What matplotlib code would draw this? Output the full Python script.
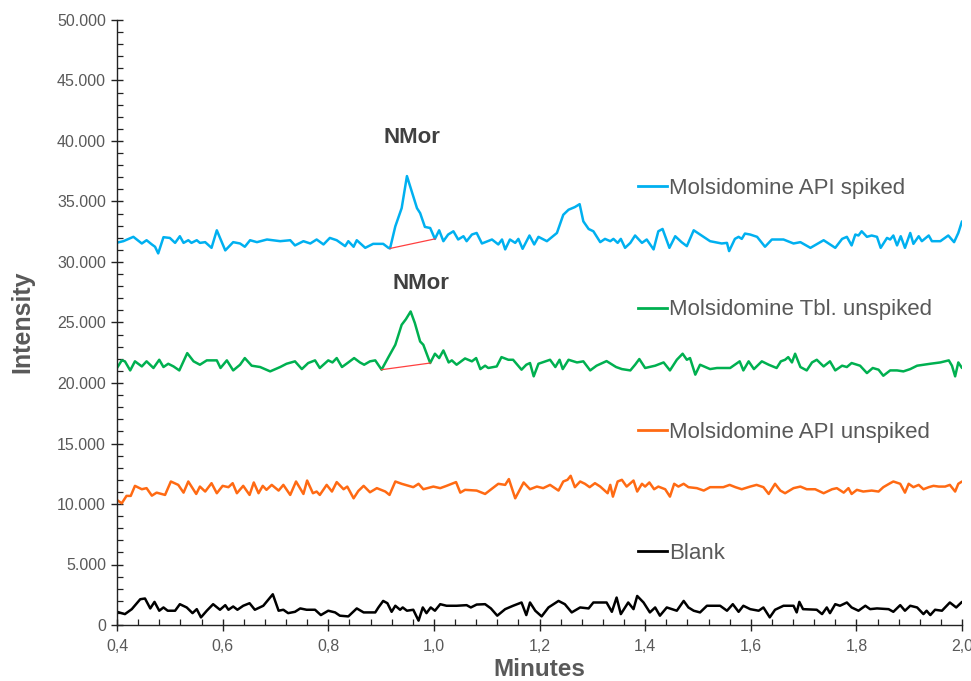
import matplotlib
matplotlib.use("Agg")
import matplotlib.pyplot as plt
from matplotlib.ticker import MultipleLocator, FuncFormatter
from matplotlib.lines import Line2D

# ---------------- data ----------------
spiked_x = [0.400, 0.412, 0.431, 0.447, 0.456, 0.466, 0.472, 0.478, 0.488, 0.500, 0.510, 0.519, 0.526, 0.535,
            0.541, 0.551, 0.557, 0.567, 0.579, 0.589, 0.605, 0.620, 0.633, 0.642, 0.652, 0.665, 0.684, 0.709,
            0.728, 0.737, 0.753, 0.766, 0.778, 0.791, 0.803, 0.816, 0.832, 0.838, 0.848, 0.854, 0.870, 0.885,
            0.904, 0.914, 0.917, 0.927, 0.939, 0.949, 0.961, 0.968, 0.974, 0.983, 0.993, 1.002, 1.010, 1.018,
            1.027, 1.037, 1.046, 1.056, 1.062, 1.072, 1.081, 1.091, 1.110, 1.122, 1.129, 1.135, 1.144, 1.154,
            1.160, 1.168, 1.181, 1.190, 1.198, 1.214, 1.233, 1.245, 1.255, 1.267, 1.276, 1.283, 1.293, 1.302,
            1.315, 1.324, 1.334, 1.340, 1.348, 1.354, 1.362, 1.372, 1.381, 1.394, 1.403, 1.416, 1.425, 1.433,
            1.446, 1.457, 1.469, 1.479, 1.492, 1.504, 1.523, 1.545, 1.555, 1.559, 1.570, 1.577, 1.583, 1.589,
            1.599, 1.612, 1.627, 1.640, 1.662, 1.681, 1.694, 1.713, 1.738, 1.760, 1.773, 1.782, 1.791, 1.798,
            1.804, 1.810, 1.820, 1.829, 1.839, 1.846, 1.858, 1.864, 1.870, 1.877, 1.884, 1.892, 1.902, 1.908,
            1.918, 1.924, 1.937, 1.943, 1.959, 1.974, 1.985, 1.993, 2.000]
spiked_y = [31600, 31720, 32080, 31530, 31800, 31450, 31260, 30710, 32050, 31990, 31580, 32130, 31580, 31800,
            31580, 31800, 31580, 31640, 31170, 32620, 30960, 31640, 31530, 31260, 31800, 31640, 31860, 31720,
            31800, 31370, 31720, 31530, 31860, 31450, 31990, 31800, 31310, 31720, 31260, 31800, 31170, 31500,
            31500, 31170, 31120, 32950, 34450, 37100, 35410, 34450, 34040, 32900, 32810, 31910, 32620, 31720,
            32270, 32540, 31860, 32130, 31720, 32270, 32400, 31530, 31860, 31450, 31860, 31040, 31860, 31580,
            31910, 31090, 32190, 31450, 32080, 31720, 32400, 33900, 34320, 34540, 34780, 33360, 32730, 32540,
            31640, 31910, 31720, 31910, 31580, 31910, 31170, 31580, 32190, 31580, 31860, 31040, 32540, 32730,
            31170, 32130, 31640, 31310, 32620, 32270, 31720, 31530, 31580, 30900, 31910, 32080, 31910, 32350,
            32270, 32080, 31260, 31860, 31860, 31530, 31640, 31170, 31800, 31170, 31910, 32080, 31370, 32270,
            32190, 32540, 32080, 32190, 32080, 31170, 31990, 31860, 32190, 31370, 32130, 31170, 32400, 31500,
            32130, 31720, 32190, 31720, 31720, 32190, 31640, 32400, 33360]

tbl_x = [0.400, 0.409, 0.415, 0.425, 0.434, 0.447, 0.456, 0.469, 0.480, 0.488, 0.497, 0.507, 0.518, 0.533,
         0.545, 0.557, 0.570, 0.589, 0.596, 0.608, 0.620, 0.633, 0.642, 0.655, 0.671, 0.690, 0.709, 0.721,
         0.737, 0.750, 0.762, 0.775, 0.784, 0.800, 0.808, 0.816, 0.826, 0.838, 0.849, 0.860, 0.868, 0.879,
         0.889, 0.901, 0.914, 0.927, 0.939, 0.947, 0.956, 0.964, 0.974, 0.980, 0.993, 1.002, 1.010, 1.018,
         1.028, 1.034, 1.043, 1.059, 1.072, 1.080, 1.088, 1.097, 1.103, 1.119, 1.128, 1.141, 1.150, 1.166,
         1.175, 1.182, 1.189, 1.198, 1.211, 1.220, 1.230, 1.238, 1.244, 1.255, 1.271, 1.283, 1.296, 1.308,
         1.327, 1.345, 1.356, 1.372, 1.381, 1.389, 1.400, 1.419, 1.435, 1.447, 1.460, 1.471, 1.479, 1.485,
         1.495, 1.504, 1.523, 1.536, 1.561, 1.579, 1.586, 1.596, 1.606, 1.621, 1.634, 1.649, 1.657, 1.665,
         1.671, 1.678, 1.684, 1.694, 1.706, 1.716, 1.725, 1.738, 1.750, 1.760, 1.773, 1.782, 1.791, 1.807,
         1.820, 1.831, 1.842, 1.851, 1.864, 1.877, 1.889, 1.902, 1.915, 1.927, 1.940, 1.959, 1.975, 1.981,
         1.987, 1.993, 2.000]
tbl_y = [21240, 21870, 21790, 21040, 21790, 21370, 21790, 21240, 21920, 21320, 21590, 21370, 21040, 22470,
         21790, 21510, 21870, 21870, 21240, 21870, 21040, 21510, 22060, 21430, 21320, 20960, 21320, 21590,
         21790, 21150, 21650, 21870, 21240, 21870, 21700, 22060, 21320, 21700, 22060, 21700, 21510, 21790,
         21870, 21100, 22140, 23160, 24810, 25270, 25910, 24950, 23430, 23160, 21650, 22420, 22060, 22690,
         21700, 21870, 21510, 22030, 21790, 22060, 21150, 21430, 21240, 21370, 22140, 21920, 21920, 21100,
         21510, 21650, 20550, 21590, 21790, 21920, 21320, 21920, 21150, 21920, 21700, 21790, 21040, 21430,
         21810, 21320, 21150, 21040, 21510, 21980, 21240, 21430, 21700, 21040, 21920, 22420, 21920, 22060,
         20690, 21510, 21150, 21240, 21240, 21790, 21040, 21790, 21150, 21790, 21510, 21240, 21790, 21920,
         22140, 21700, 22420, 21320, 21040, 21700, 21920, 21370, 21790, 21040, 21430, 21320, 21650, 21430,
         20820, 21240, 21100, 20600, 21040, 21040, 20960, 21150, 21430, 21510, 21590, 21700, 21870, 21430,
         20550, 21700, 21240]

api_x = [0.400, 0.409, 0.418, 0.426, 0.434, 0.447, 0.456, 0.466, 0.475, 0.491, 0.502, 0.516, 0.526, 0.535,
         0.550, 0.557, 0.567, 0.579, 0.589, 0.600, 0.611, 0.619, 0.627, 0.639, 0.651, 0.659, 0.668, 0.676,
         0.683, 0.693, 0.706, 0.715, 0.728, 0.739, 0.753, 0.760, 0.771, 0.778, 0.784, 0.797, 0.807, 0.816,
         0.829, 0.836, 0.848, 0.857, 0.867, 0.879, 0.892, 0.908, 0.916, 0.927, 0.939, 0.961, 0.971, 0.980,
         0.999, 1.012, 1.024, 1.042, 1.050, 1.059, 1.081, 1.097, 1.122, 1.135, 1.142, 1.154, 1.170, 1.182,
         1.195, 1.207, 1.220, 1.236, 1.245, 1.253, 1.259, 1.267, 1.277, 1.286, 1.295, 1.305, 1.315, 1.329,
         1.334, 1.339, 1.348, 1.356, 1.365, 1.378, 1.385, 1.394, 1.400, 1.408, 1.417, 1.425, 1.438, 1.447,
         1.455, 1.463, 1.473, 1.482, 1.498, 1.511, 1.523, 1.548, 1.560, 1.571, 1.583, 1.599, 1.611, 1.624,
         1.634, 1.646, 1.656, 1.665, 1.681, 1.694, 1.706, 1.722, 1.738, 1.754, 1.763, 1.776, 1.785, 1.791,
         1.801, 1.813, 1.829, 1.842, 1.851, 1.864, 1.870, 1.883, 1.892, 1.899, 1.908, 1.918, 1.927, 1.937,
         1.946, 1.956, 1.968, 1.977, 1.987, 1.993, 2.000]
api_y = [10330, 10060, 10670, 10670, 11500, 11220, 11310, 10690, 10940, 10750, 11860, 11580, 10940, 11860,
         10830, 11440, 11030, 11720, 10890, 11500, 11390, 11720, 10890, 11500, 10750, 11780, 10890, 11500,
         11170, 11580, 11110, 11580, 10750, 11860, 10830, 11940, 10890, 11030, 10750, 11580, 11030, 11810,
         11220, 11440, 10470, 11080, 11500, 10970, 11310, 11030, 10750, 11860, 11670, 11390, 11670, 11220,
         11440, 11310, 11500, 11810, 10940, 11170, 11110, 10830, 11670, 11580, 12060, 10470, 11780, 11220,
         11440, 11310, 11580, 11110, 11860, 12000, 12330, 11390, 11860, 11670, 11390, 11720, 11440, 10890,
         11580, 10610, 11860, 12000, 11440, 11940, 11030, 11670, 11440, 11780, 11220, 11440, 11220, 10610,
         11670, 11440, 11670, 11390, 11310, 11110, 11390, 11390, 11580, 11390, 11220, 11440, 11580, 11390,
         10830, 11670, 11110, 10890, 11310, 11440, 11220, 11220, 10890, 11220, 11310, 10940, 11310, 10830,
         11170, 11030, 11110, 11030, 11390, 11720, 11860, 11670, 10940, 11670, 11390, 11580, 11220, 11390,
         11500, 11440, 11440, 11580, 11030, 11670, 11860]

blank_x = [0.400, 0.415, 0.428, 0.444, 0.453, 0.463, 0.471, 0.480, 0.488, 0.496, 0.510, 0.519, 0.532, 0.543,
           0.551, 0.559, 0.570, 0.582, 0.595, 0.605, 0.611, 0.620, 0.628, 0.639, 0.651, 0.661, 0.677, 0.695,
           0.706, 0.715, 0.724, 0.737, 0.747, 0.759, 0.775, 0.786, 0.800, 0.813, 0.822, 0.838, 0.854, 0.867,
           0.889, 0.895, 0.904, 0.912, 0.920, 0.927, 0.936, 0.941, 0.949, 0.961, 0.971, 0.979, 0.986, 0.994,
           1.002, 1.012, 1.024, 1.043, 1.062, 1.070, 1.081, 1.097, 1.108, 1.120, 1.135, 1.150, 1.166, 1.175,
           1.182, 1.192, 1.204, 1.217, 1.236, 1.248, 1.261, 1.277, 1.293, 1.302, 1.327, 1.337, 1.346, 1.354,
           1.362, 1.368, 1.378, 1.385, 1.397, 1.409, 1.419, 1.428, 1.441, 1.460, 1.473, 1.482, 1.492, 1.504,
           1.517, 1.542, 1.555, 1.566, 1.577, 1.586, 1.599, 1.615, 1.624, 1.636, 1.646, 1.662, 1.681, 1.687,
           1.692, 1.699, 1.725, 1.735, 1.744, 1.750, 1.760, 1.769, 1.782, 1.791, 1.804, 1.817, 1.826, 1.839,
           1.861, 1.870, 1.883, 1.892, 1.902, 1.915, 1.927, 1.933, 1.940, 1.949, 1.962, 1.977, 1.989, 2.000]
blank_y = [1090, 900, 1310, 2130, 2190, 1370, 1910, 1180, 1450, 1180, 1180, 1720, 1450, 980,
           1310, 630, 1180, 1720, 1260, 1640, 1260, 1530, 1260, 1590, 1800, 1260, 1590, 2540,
           1180, 1260, 980, 1090, 1370, 1260, 1260, 820, 1180, 1040, 770, 710, 1370, 1040,
           1040, 1450, 1990, 1800, 1090, 1590, 1260, 1450, 1180, 1260, 360, 1450, 980, 1450,
           1180, 1720, 1590, 1590, 1640, 1450, 1690, 1720, 1370, 770, 1310, 1590, 1860, 820,
           1860, 1180, 710, 1450, 1990, 1720, 1040, 1450, 1370, 1860, 1860, 1090, 2270, 900,
           1450, 1860, 1310, 2400, 1860, 1040, 1450, 770, 1450, 1180, 1990, 1450, 1180, 1040,
           1590, 1590, 1180, 1720, 1090, 1590, 1310, 1180, 1450, 630, 1260, 1590, 1590, 1040,
           1910, 1310, 1260, 900, 1450, 980, 1720, 1590, 1860, 1450, 1180, 1590, 1310, 1370,
           1310, 1090, 1640, 1180, 1590, 1450, 900, 1180, 820, 1260, 1180, 1860, 1450, 1910]

# integration baselines (red) under the NMor peaks
base_spiked_x = [0.917, 1.002]
base_spiked_y = [31120, 31910]
base_tbl_x = [0.901, 0.993]
base_tbl_y = [21100, 21650]

peak_label = "NMor"
peak_spiked = (0.959, 40250)
peak_tbl = (0.976, 28260)

series_labels = ["Molsidomine API spiked", "Molsidomine Tbl. unspiked",
                 "Molsidomine API unspiked", "Blank"]
colors = ["#00B0F0", "#00B050", "#FF6A13", "#000000"]

# ---------------- figure ----------------
GRAY = "#595959"
REG = ["Liberation Sans", "DejaVu Sans"]

fig = plt.figure(figsize=(9.71, 6.81), dpi=100)
ax = fig.add_axes([117/971, 1-625/681, (962-117)/971, (625-20)/681])

series = [(spiked_x, spiked_y), (tbl_x, tbl_y), (api_x, api_y), (blank_x, blank_y)]
handles = []
for (xs, ys), c, lab in zip(series, colors, series_labels):
    h, = ax.plot(xs, ys, color=c, lw=1.8, solid_joinstyle="round", solid_capstyle="round", label=lab)
    handles.append(h)

ax.plot(base_spiked_x, base_spiked_y, color="#FF4040", lw=0.9)
ax.plot(base_tbl_x, base_tbl_y, color="#FF4040", lw=0.9)

for pos in (peak_spiked, peak_tbl):
    ax.text(pos[0], pos[1], peak_label, ha="center", va="center", fontsize=16,
            fontweight="bold", color="#404040", family=REG)

ax.set_xlim(0.4, 2.0)
ax.set_ylim(0, 50000)
ax.xaxis.set_major_locator(MultipleLocator(0.2))
ax.xaxis.set_minor_locator(MultipleLocator(0.04))
ax.yaxis.set_major_locator(MultipleLocator(5000))
ax.yaxis.set_minor_locator(MultipleLocator(1000))
ax.xaxis.set_major_formatter(FuncFormatter(lambda v, p: f"{v:.1f}".replace(".", ",")))
ax.yaxis.set_major_formatter(FuncFormatter(lambda v, p: "0" if v == 0 else f"{int(round(v)):,}".replace(",", ".")))

for s in ("top", "right"):
    ax.spines[s].set_visible(False)
for s in ("left", "bottom"):
    ax.spines[s].set_color("#222222")
    ax.spines[s].set_linewidth(1.0)

ax.tick_params(axis="both", which="major", direction="inout", length=8, width=1.0, color="#222222")
ax.tick_params(axis="both", which="minor", direction="in", length=4, width=0.9, color="#222222")
ax.tick_params(axis="y", which="major", labelsize=11.5, labelcolor=GRAY, pad=4)
ax.tick_params(axis="x", which="major", labelsize=11.5, labelcolor=GRAY, pad=6)
for t in ax.get_yticklabels() + ax.get_xticklabels():
    t.set_family(REG)

ax.set_xlabel("Minutes", fontsize=17.5, fontweight="bold", color=GRAY, family=REG)
ax.xaxis.label.set_va("center")
ax.xaxis.set_label_coords(0.5, (625 - 670) / 605)
ax.set_ylabel("Intensity", fontsize=18, fontweight="bold", color=GRAY, family=REG)
ax.yaxis.label.set_va("center")
ax.yaxis.set_label_coords((22 - 117) / 845, (625 - 322) / 605)

# legend entries placed beside each trace
leg_y = [0.7223, 0.5207, 0.3190, 0.1190]
for i, (h, yy) in enumerate(zip(handles, leg_y)):
    lg = ax.legend([Line2D([], [], color=h.get_color(), lw=2)], [h.get_label()],
                   loc="center left", bbox_to_anchor=(0.6166, yy), frameon=False,
                   borderpad=0, borderaxespad=0, handlelength=1.3, handletextpad=0.1,
                   prop={"family": REG, "size": 16})
    for t in lg.get_texts():
        t.set_color(GRAY)
    if i < len(handles) - 1:
        ax.add_artist(lg)

fig.savefig("out.png", dpi=100)
